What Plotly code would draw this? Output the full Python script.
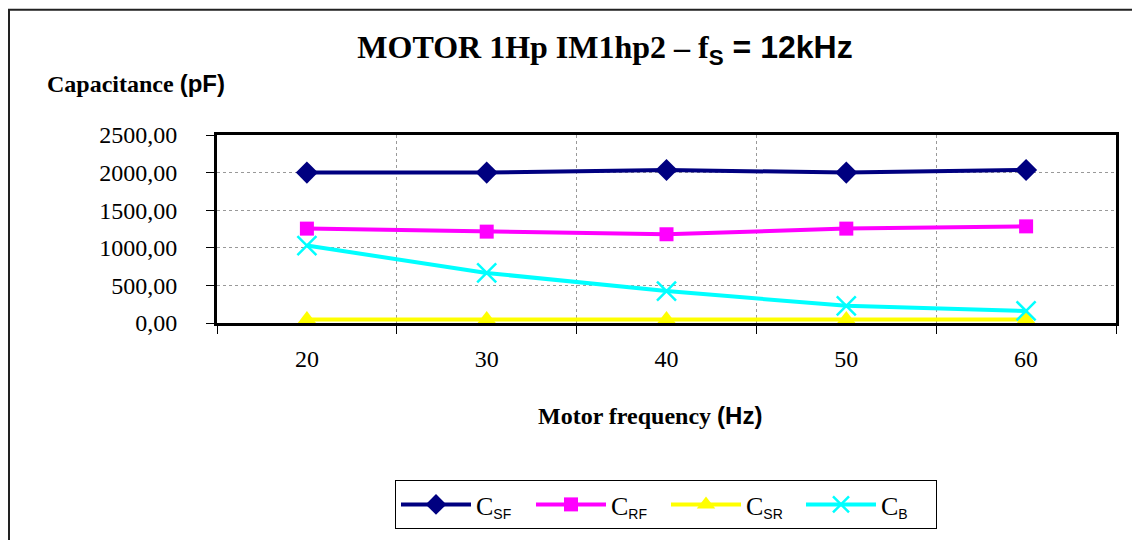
import plotly.graph_objects as go

freq = ["20", "30", "40", "50", "60"]
c_sf = [2000, 2000, 2035, 2000, 2035]
c_rf = [1255, 1215, 1180, 1255, 1285]
c_sr = [45, 45, 45, 45, 45]
c_b = [1030, 665, 425, 228, 160]

SERIF = "Liberation Serif, Times New Roman, serif"
SANS = "Liberation Sans, Arial, sans-serif"

def sub(main, s):
    return f"{main}<span style='font-family:{SANS};font-size:20px'><sub>{s}</sub></span>"

fig = go.Figure()
fig.add_trace(go.Scatter(x=freq, y=c_sf, name=sub("C", "SF"), mode="lines+markers",
                         line=dict(color="#000080", width=4),
                         marker=dict(symbol="diamond", size=17, color="#000080")))
fig.add_trace(go.Scatter(x=freq, y=c_rf, name=sub("C", "RF"), mode="lines+markers",
                         line=dict(color="#FF00FF", width=4),
                         marker=dict(symbol="square", size=14, color="#FF00FF")))
fig.add_trace(go.Scatter(x=freq, y=c_sr, name=sub("C", "SR"), mode="lines+markers",
                         line=dict(color="#FFFF00", width=4),
                         marker=dict(symbol="triangle-up", size=17, color="#FFFF00")))
fig.add_trace(go.Scatter(x=freq, y=c_b, name=sub("C", "B"), mode="lines+markers",
                         line=dict(color="#00FFFF", width=4),
                         marker=dict(symbol="x-thin", size=19, color="#00FFFF",
                                     line=dict(color="#00FFFF", width=2.5))))

L, R, T, B = 217, 16, 135, 216
W, H = 1132, 540
pw, ph = W - L - R, H - T - B

def px(x):
    return (x - L) / pw

def py(y):
    return (H - B - y) / ph

fig.update_layout(
    width=W, height=H,
    margin=dict(l=L, r=R, t=T, b=B),
    paper_bgcolor="white", plot_bgcolor="white",
    separators=",.",
    font=dict(family=SERIF, size=24, color="black"),
    title=dict(
        text=f"<b>MOTOR 1Hp IM1hp2 – f<span style='font-family:{SANS}'><sub>S</sub> = 12kHz</span></b>",
        x=605 / W, xanchor="center", y=1 - 47 / H, yanchor="middle",
        font=dict(family=SERIF, size=32, color="black")),
    showlegend=True,
    legend=dict(orientation="h", x=px(395), y=py(480), xanchor="left", yanchor="top",
                bordercolor="black", borderwidth=1, bgcolor="white",
                font=dict(family=SERIF, size=26), itemwidth=70,
                entrywidth=50, entrywidthmode="pixels",
                tracegroupgap=0),
    xaxis=dict(type="category", tickson="boundaries", showgrid=True,
               gridcolor="#999999", griddash="dot", gridwidth=1,
               ticks="outside", ticklen=8, tickcolor="black", tickwidth=1,
               showline=True, linecolor="black", linewidth=3, mirror=True,
               tickfont=dict(family=SERIF, size=24), range=[-0.5, 4.5],
               ticklabelstandoff=12),
    yaxis=dict(range=[0, 2500], dtick=500, tickformat=".2f", showgrid=True,
               gridcolor="#999999", griddash="dot", gridwidth=1,
               ticks="outside", ticklen=8, tickcolor="black", tickwidth=1,
               showline=True, linecolor="black", linewidth=3, mirror=True,
               tickfont=dict(family=SERIF, size=24), zeroline=False,
               ticklabelstandoff=24),
    annotations=[
        dict(text=f"<b>Capacitance <span style='font-family:{SANS}'>(pF)</span></b>",
             xref="paper", yref="paper", x=px(45), y=py(83),
             xanchor="left", yanchor="middle", showarrow=False,
             font=dict(family=SERIF, size=24)),
        dict(text=f"<b>Motor frequency <span style='font-family:{SANS}'>(Hz)</span></b>",
             xref="paper", yref="paper", x=px(650), y=py(417),
             xanchor="center", yanchor="middle", showarrow=False,
             font=dict(family=SERIF, size=24)),
    ],
    shapes=[dict(type="rect", xref="paper", yref="paper",
                 x0=px(9), x1=px(1145), y0=py(560), y1=py(9),
                 line=dict(color="#222222", width=2), layer="below")],
)

fig.write_html("out.html", config={"displayModeBar": False},
               post_script="document.body.style.margin='0';")
